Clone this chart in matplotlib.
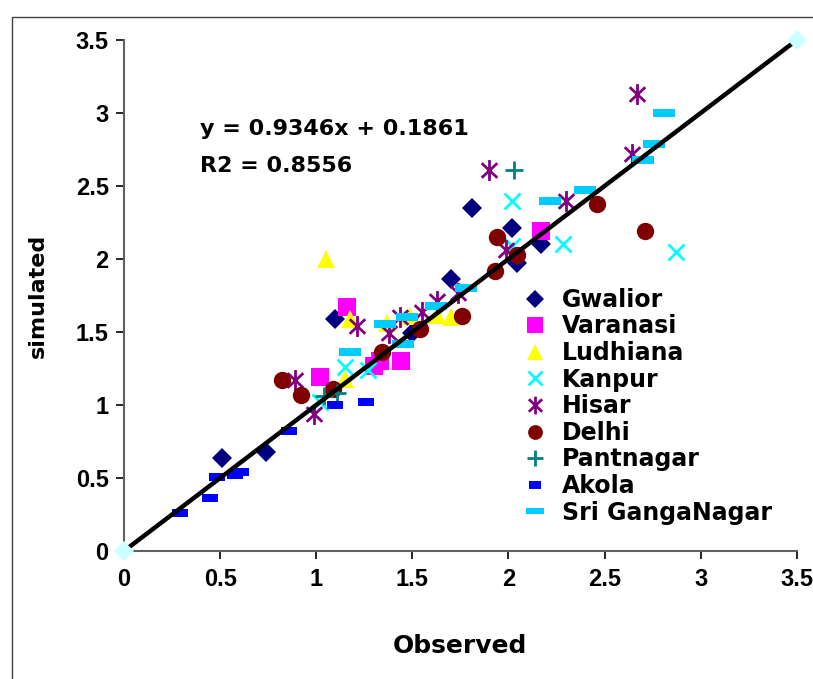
import matplotlib
matplotlib.use('Agg')
import matplotlib.pyplot as plt
from matplotlib.patches import Rectangle
from matplotlib.path import Path

plt.rcParams['font.family'] = ['DejaVu Sans']
plt.rcParams['font.weight'] = 'bold'

# observed / simulated values per station
gwalior_x = [0.51, 0.74, 1.10, 1.50, 1.70, 1.81, 2.02, 2.045, 2.17]
gwalior_y = [0.64, 0.68, 1.59, 1.49, 1.86, 2.35, 2.21, 1.97, 2.10]
varanasi_x = [1.02, 1.16, 1.30, 1.33, 1.44, 2.17]
varanasi_y = [1.19, 1.67, 1.27, 1.30, 1.30, 2.19]
ludhiana_x = [1.05, 1.175, 1.15, 1.37, 1.49, 1.63, 1.70]
ludhiana_y = [2.00, 1.59, 1.18, 1.56, 1.61, 1.62, 1.60]
kanpur_x = [1.02, 1.15, 1.27, 2.02, 2.02, 2.285, 2.87]
kanpur_y = [1.02, 1.26, 1.24, 2.40, 2.09, 2.10, 2.05]
hisar_x = [0.89, 0.99, 1.21, 1.38, 1.435, 1.55, 1.63, 1.74, 1.90, 1.99, 2.30, 2.645, 2.67]
hisar_y = [1.17, 0.94, 1.54, 1.49, 1.60, 1.64, 1.71, 1.77, 2.61, 2.06, 2.40, 2.72, 3.13]
delhi_x = [0.82, 0.92, 1.085, 1.34, 1.54, 1.76, 1.93, 1.94, 2.045, 2.46, 2.71]
delhi_y = [1.17, 1.07, 1.11, 1.365, 1.52, 1.61, 1.92, 2.15, 2.03, 2.38, 2.19]
pantnagar_x = [1.04, 1.11, 2.03]
pantnagar_y = [1.06, 1.08, 2.61]
akola_x = [0.29, 0.45, 0.485, 0.58, 0.61, 0.86, 1.10, 1.26]
akola_y = [0.26, 0.365, 0.505, 0.52, 0.54, 0.82, 1.00, 1.02]
sgn_x = [1.175, 1.36, 1.45, 1.47, 1.625, 1.78, 2.215, 2.40, 2.70, 2.76, 2.81]
sgn_y = [1.365, 1.555, 1.42, 1.60, 1.68, 1.80, 2.40, 2.47, 2.68, 2.79, 3.00]
one_to_one = [0, 3.5]

ticks = [0, 0.5, 1, 1.5, 2, 2.5, 3, 3.5]
tick_labels = ['0', '0.5', '1', '1.5', '2', '2.5', '3', '3.5']

fig = plt.figure(figsize=(8.13, 6.79), dpi=100)
ax = fig.add_axes([0.1525, 0.1885, 0.8275, 0.7525])

akola_mark = [(-1, -0.55), (1, -0.55), (1, 0.55), (-1, 0.55)]
sgn_mark = [(-1, -0.33), (1, -0.33), (1, 0.33), (-1, 0.33)]
star_mark = Path([(0, -1), (0, 1), (-0.75, -0.7), (0.75, 0.7), (-0.75, 0.7), (0.75, -0.7)],
                 [Path.MOVETO, Path.LINETO] * 3)

ax.plot(gwalior_x, gwalior_y, 'D', color='#000080', ms=10.5, mew=0, label='Gwalior')
ax.plot(varanasi_x, varanasi_y, 's', color='#ff00ff', ms=13, mew=0, label='Varanasi')
ax.plot(ludhiana_x, ludhiana_y, '^', color='#ffff00', ms=13, mew=0, label='Ludhiana')
ax.plot(kanpur_x, kanpur_y, 'x', color='#00ffff', ms=12, mew=2, label='Kanpur')
ax.plot(hisar_x, hisar_y, marker=star_mark, ls='none', color='#800080', ms=15, mew=2, label='Hisar')
ax.plot(delhi_x, delhi_y, 'o', color='#800000', ms=12.5, mew=0, label='Delhi')
ax.plot(pantnagar_x, pantnagar_y, '+', color='#008080', ms=13, mew=2, label='Pantnagar')
ax.plot(akola_x, akola_y, marker=akola_mark, ls='none', color='#0000ff', ms=11, mew=0, label='Akola')
ax.plot(sgn_x, sgn_y, marker=sgn_mark, ls='none', color='#00ccff', ms=16, mew=0, label='Sri GangaNagar')
ax.plot(one_to_one, one_to_one, '-', color='black', lw=3.2, zorder=5)
ax.plot(one_to_one, one_to_one, 'D', color='#ccffff', ms=10, mew=0, zorder=6, clip_on=False)

ax.set_xlim(0, 3.5)
ax.set_ylim(0, 3.5)
ax.set_xticks(ticks)
ax.set_xticklabels(tick_labels, family='Liberation Sans')
ax.set_yticks(ticks)
ax.set_yticklabels(tick_labels, family='Liberation Sans')
ax.tick_params(direction='out', length=6, width=1.2, labelsize=17)
ax.tick_params(axis='y', pad=5)
ax.tick_params(axis='x', pad=6)
for s in ['top', 'right']:
    ax.spines[s].set_visible(False)
for s in ['left', 'bottom']:
    ax.spines[s].set_color('#606060')
    ax.spines[s].set_linewidth(1.5)

ax.set_xlabel('Observed', fontsize=18, fontweight='bold', labelpad=31)
ax.set_ylabel('simulated', fontsize=16, fontweight='bold', labelpad=20)

ax.text(0.395, 2.89, 'y = 0.9346x + 0.1861', fontsize=16, fontweight='bold', va='center')
ax.text(0.395, 2.64, 'R2 = 0.8556', fontsize=16, fontweight='bold', va='center')

ax.legend(loc='upper left', bbox_to_anchor=(0.593, 0.515), frameon=False,
          fontsize=17, handlelength=1.0, handletextpad=0.65, labelspacing=0.11,
          markerscale=0.85, borderaxespad=0, borderpad=0)

fig.patches.append(Rectangle((12 / 813, -0.05), 1.1, 1 - 17 / 679 + 0.05,
                             transform=fig.transFigure, fill=False,
                             edgecolor='#404040', lw=1))

fig.savefig('out.png', dpi=100)
